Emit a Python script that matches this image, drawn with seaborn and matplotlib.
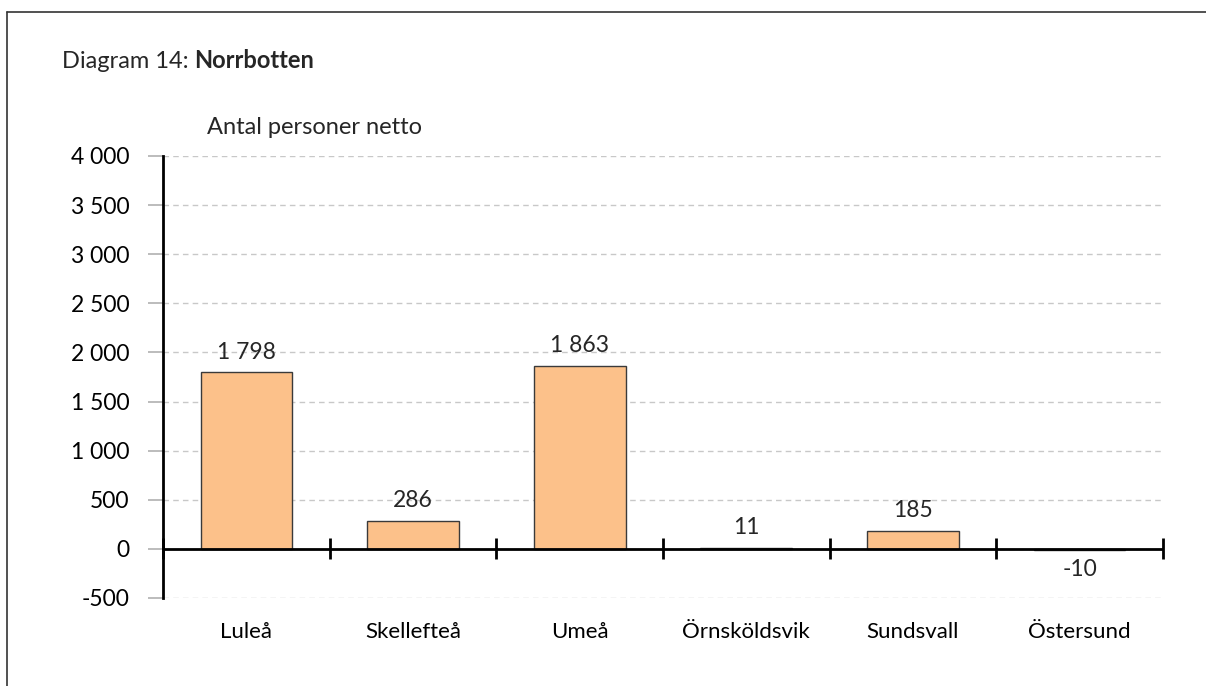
import numpy as np
import pandas as pd
import matplotlib.pyplot as plt
import seaborn as sns
from matplotlib.lines import Line2D

# data
orter = ['Luleå', 'Skellefteå', 'Umeå', 'Örnsköldsvik', 'Sundsvall', 'Östersund']
netto = [1798, 286, 1863, 11, 185, -10]
yticks = [-500, 0, 500, 1000, 1500, 2000, 2500, 3000, 3500, 4000]

df = pd.DataFrame({'ort': orter, 'netto': netto})

sns.set_theme(style='white')
plt.rcParams['font.family'] = ['Lato', 'DejaVu Sans']

fig = plt.figure(figsize=(12.06, 6.86), dpi=100)
ax = fig.add_axes([0.1352, 0.1283, 0.8291, 0.6443])

sns.barplot(data=df, x='ort', y='netto', color='#FCC18A', saturation=1,
            edgecolor='#3a3a3a', linewidth=1, width=0.55, ax=ax)

ax.set_xlim(-0.5, len(orter) - 0.5)
ax.set_ylim(min(yticks), max(yticks))
ax.set_yticks(yticks)
ax.set_yticklabels([f"{v:,}".replace(",", " ") for v in yticks], fontsize=16.5, color='black')
ax.yaxis.grid(True, linestyle=(0, (4, 3)), color='#c8c8c8', linewidth=1)
ax.set_axisbelow(True)
ax.tick_params(axis='y', length=11, color='#b0b0b0', width=1.2, pad=13, left=True)
ax.tick_params(axis='x', length=0, pad=17, labelsize=16, labelcolor='black')
ax.set_xlabel('')
ax.set_ylabel('')

for s in ['top', 'right', 'bottom']:
    ax.spines[s].set_visible(False)
ax.spines['left'].set_color('black')
ax.spines['left'].set_linewidth(2)

# zero line with tick marks between the categories
ax.axhline(0, color='black', linewidth=2, zorder=3)
grans = np.arange(len(orter) + 1) - 0.5
ax.vlines(grans, -107, 107, color='black', linewidth=2, zorder=3, clip_on=False)

for i, v in enumerate(netto):
    txt = f"{v:,}".replace(",", " ")
    off = 14.5 if v >= 0 else -14.5
    ax.annotate(txt, (i, v), xytext=(0, off), textcoords='offset points',
                ha='center', va='center', fontsize=16.5)

t1 = fig.text(62 / 1206, 1 - 61 / 686, 'Diagram 14: ', fontsize=17, va='center', ha='left')
fig.canvas.draw()
bb = t1.get_window_extent(renderer=fig.canvas.get_renderer())
fig.text(bb.x1 / fig.bbox.width, 1 - 61 / 686, 'Norrbotten', fontsize=17,
         va='center', ha='left', fontweight='bold')
fig.text(207 / 1206, 1 - 127 / 686, 'Antal personer netto', fontsize=17, va='center', ha='left')

# frame
fig.add_artist(Line2D([7 / 1206, 1], [1 - 12 / 686, 1 - 12 / 686], color='#333333', linewidth=1.2))
fig.add_artist(Line2D([7 / 1206, 7 / 1206], [0, 1 - 12 / 686], color='#333333', linewidth=1.2))

fig.savefig('out.png', dpi=100)
